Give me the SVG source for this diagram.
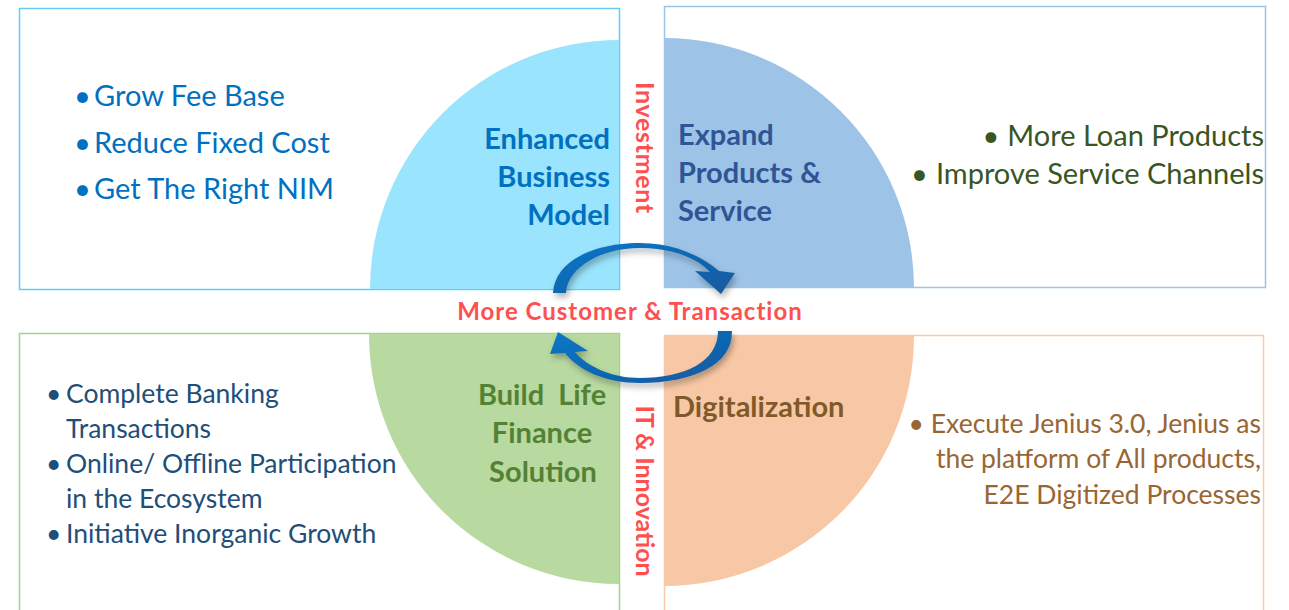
<svg xmlns="http://www.w3.org/2000/svg" width="1289" height="610" viewBox="0 0 1289 610">
<style>
text{font-family:Lato,"Noto Sans","Liberation Sans",sans-serif}
.b{font-weight:bold}
.frame{fill:#ffffff;stroke-width:1.5}
.list{font-size:29px}
.list2{font-size:26.5px}
.title{font-size:29px;font-weight:bold}
.vert{font-size:25px;font-weight:bold;fill:#ff5050}
</style>
<defs>
<linearGradient id="ag" x1="0" y1="0" x2="1" y2="1">
<stop offset="0" stop-color="#0b77c8"/>
<stop offset="1" stop-color="#14599e"/>
</linearGradient>
<filter id="sh" x="-20%" y="-20%" width="140%" height="160%">
<feDropShadow dx="2" dy="4" stdDeviation="3" flood-color="#000" flood-opacity="0.3"/>
</filter>
</defs>
<rect width="1289" height="610" fill="#ffffff"/>

<g id="node-enhanced">
<rect class="frame" x="19.5" y="8.5" width="600" height="281" stroke="#5fcdf5"/>
<path d="M619,289 L370,289 A249,249 0 0 1 619,40 Z" fill="#9ae4fd"/>
<text class="list" fill="#0070c0"><tspan x="74" y="106">•</tspan><tspan x="94" y="106">Grow Fee Base</tspan></text>
<text class="list" fill="#0070c0"><tspan x="74" y="153">•</tspan><tspan x="94" y="153">Reduce Fixed Cost</tspan></text>
<text class="list" fill="#0070c0"><tspan x="74" y="199">•</tspan><tspan x="94" y="199">Get The Right NIM</tspan></text>
<text class="title" fill="#0070c0" text-anchor="end"><tspan x="610" y="149">Enhanced</tspan><tspan x="610" y="187">Business</tspan><tspan x="610" y="225">Model</tspan></text>
</g>

<g id="node-expand">
<rect class="frame" x="664.5" y="6.5" width="601" height="281" stroke="#9dc3e6"/>
<path d="M664,288 L664,38 A250,250 0 0 1 914,288 Z" fill="#9dc3e6"/>
<text class="list" fill="#375623" text-anchor="end" x="1264" y="146"><tspan>•</tspan><tspan dx="8">More Loan Products</tspan></text>
<text class="list" fill="#375623" text-anchor="end" x="1264" y="184"><tspan>•</tspan><tspan dx="8">Improve Service Channels</tspan></text>
<text class="title" fill="#2f5597"><tspan x="678" y="145">Expand</tspan><tspan x="678" y="183">Products &amp;</tspan><tspan x="678" y="221">Service</tspan></text>
</g>

<g id="node-build">
<rect class="frame" x="19.5" y="333.5" width="600" height="290" stroke="#a9d18e"/>
<path d="M619,334 L619,584 A250,250 0 0 1 369,334 Z" fill="#b8d9a0"/>
<text class="list2" fill="#1f4e79"><tspan x="46" y="403">•</tspan><tspan x="66" y="403">Complete Banking</tspan><tspan x="66" y="438">Transactions</tspan></text>
<text class="list2" fill="#1f4e79"><tspan x="46" y="473">•</tspan><tspan x="66" y="473">Online/ Offline Participation</tspan><tspan x="66" y="508">in the Ecosystem</tspan></text>
<text class="list2" fill="#1f4e79"><tspan x="46" y="543">•</tspan><tspan x="66" y="543">Initiative Inorganic Growth</tspan></text>
<text class="title" fill="#548235" text-anchor="middle"><tspan x="542" y="405" xml:space="preserve">Build  Life</tspan><tspan x="542" y="443">Finance</tspan><tspan x="543" y="482">Solution</tspan></text>
</g>

<g id="node-digital">
<rect class="frame" x="664.5" y="335.5" width="599" height="290" stroke="#f8cbad"/>
<path d="M664,336 L914,336 A250,250 0 0 1 664,586 Z" fill="#f8c8a6"/>
<text class="list2" fill="#996633" text-anchor="end" x="1261" y="433"><tspan>•</tspan><tspan dx="7">Execute Jenius 3.0, Jenius as</tspan></text>
<text class="list2" fill="#996633" text-anchor="end"><tspan x="1261" y="468">the platform of All products,</tspan><tspan x="1261" y="504">E2E Digitized Processes</tspan></text>
<text class="title" fill="#7f5a28" x="673" y="417">Digitalization</text>
</g>

<g id="labels">
<text class="vert" transform="translate(636,148) rotate(90)" text-anchor="middle" letter-spacing="0.7">Investment</text>
<text class="vert" transform="translate(636,491) rotate(90)" text-anchor="middle">IT &amp; Innovation</text>
<text id="center-label" class="b" font-size="24" letter-spacing="1" fill="#ff5050" x="630" y="320" text-anchor="middle">More Customer &amp; Transaction</text>
</g>

<g id="connectors" fill="url(#ag)" filter="url(#sh)">
<path d="M553,293 C555,260 595,243 640,243 C675,243 703,257 719,271 L735,273 L721,294 L695,271 L710,272 C697,258 672,248 640,248 C603,248 568,266 566,293 Z"/>
<path d="M732,331 C733,365 692,383 640,383 C605,383 578,370 565,353 L550,354 L558,332 L588,351 L575,352 C588,367 612,378 640,378 C684,378 718,362 718,331 Z"/>
</g>
</svg>
